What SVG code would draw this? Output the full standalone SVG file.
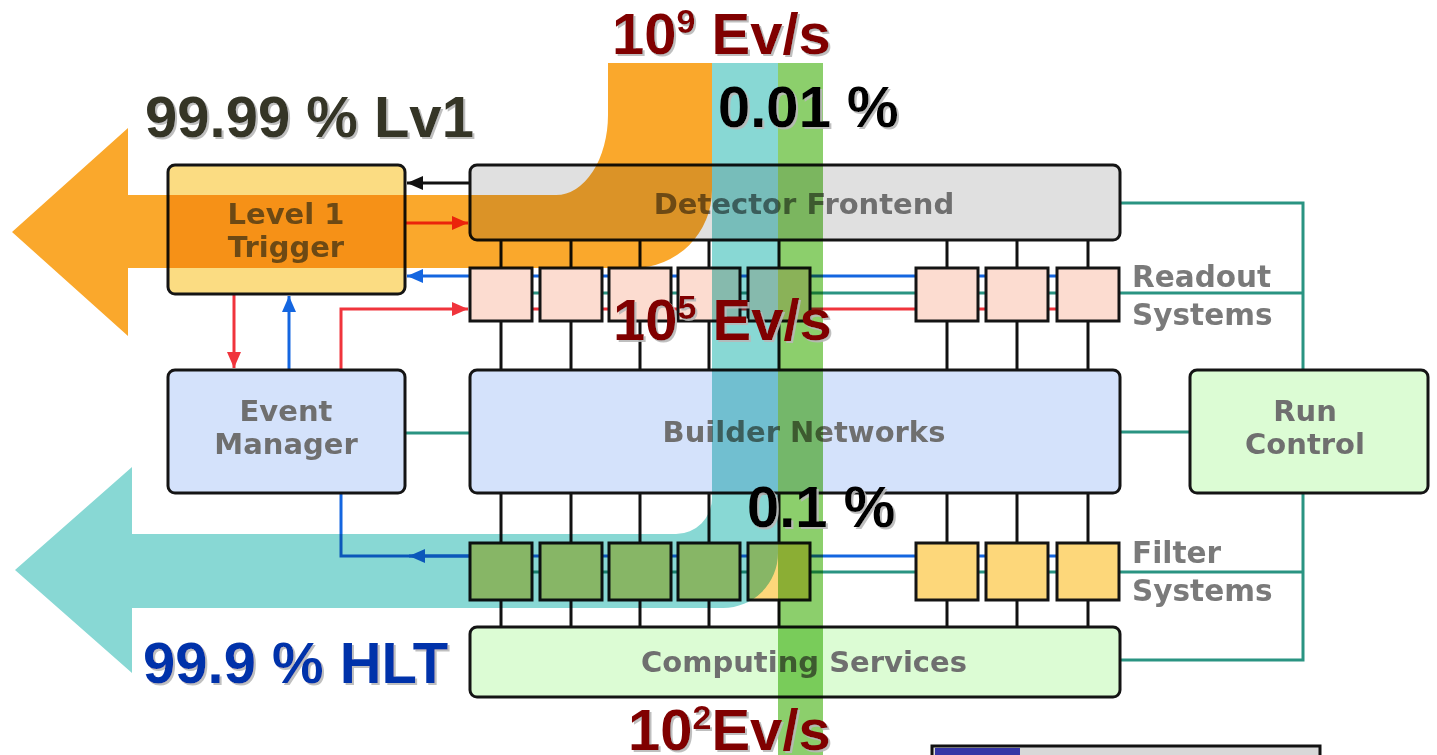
<svg xmlns="http://www.w3.org/2000/svg" width="1437" height="755" viewBox="0 0 1437 755">
<defs>
<style>
.box{stroke:#141414;stroke-width:3}
.lbl{font-family:"DejaVu Sans",Verdana,sans-serif;font-weight:bold;font-size:29px;fill:#6f6f6f;text-anchor:middle}
.side{font-family:"DejaVu Sans",Verdana,sans-serif;font-weight:bold;font-size:29.5px;fill:#7a7a7a}
.big{font-family:"Liberation Sans",Arial,sans-serif;font-weight:bold;font-size:58px;filter:url(#sh)}
.blk{stroke:#111;stroke-width:3;fill:none}
.teal{stroke:#2a9482;stroke-width:3;fill:none}
.red{stroke:#f0343c;stroke-width:3;fill:none}
.blue{stroke:#1466e0;stroke-width:3;fill:none}
.pink{fill:#fcdcd0}
.yel{fill:#fdd77a}
.band{mix-blend-mode:multiply}
</style>
<filter id="sh" x="-5%" y="-10%" width="110%" height="130%">
<feDropShadow dx="2" dy="2" stdDeviation="0.6" flood-color="#b8b8b8" flood-opacity="0.9"/>
</filter>
<marker id="mRed" viewBox="0 0 16 14" refX="16" refY="7" markerWidth="16" markerHeight="14" markerUnits="userSpaceOnUse" orient="auto"><path d="M0,0 L16,7 L0,14 z" fill="#f0343c"/></marker>
<marker id="mBlue" viewBox="0 0 16 14" refX="16" refY="7" markerWidth="16" markerHeight="14" markerUnits="userSpaceOnUse" orient="auto"><path d="M0,0 L16,7 L0,14 z" fill="#1466e0"/></marker>
<marker id="mBlk" viewBox="0 0 16 14" refX="16" refY="7" markerWidth="16" markerHeight="14" markerUnits="userSpaceOnUse" orient="auto"><path d="M0,0 L16,7 L0,14 z" fill="#111"/></marker>
</defs>
<rect width="1437" height="755" fill="#ffffff"/>

<g id="connectors">
<path class="blk" d="M501,240V370 M571,240V370 M640,240V370 M709,240V370 M779,240V370 M947,240V370 M1017,240V370 M1088,240V370"/>
<path class="blk" d="M501,493V627 M571,493V627 M640,493V627 M709,493V627 M779,493V627 M947,493V627 M1017,493V627 M1088,493V627"/>
<path class="blue" d="M1060,276H470"/>
<path class="blue" d="M472,276H407" marker-end="url(#mBlue)"/>
<path class="teal" d="M470,293H1303"/>
<path class="red" d="M470,309H1060"/>
<path class="red" d="M341,370V309H468" marker-end="url(#mRed)"/>
<path class="blk" d="M470,183H407" marker-end="url(#mBlk)"/>
<path class="red" d="M405,223H468" marker-end="url(#mRed)"/>
<path class="red" d="M234,294V368" marker-end="url(#mRed)"/>
<path class="blue" d="M289,370V296" marker-end="url(#mBlue)"/>
<path class="teal" d="M405,433H470"/>
<path class="blue" d="M1060,556H341V493"/>
<path class="blue" d="M470,556H409" marker-end="url(#mBlue)"/>
<path class="teal" d="M470,572H1303"/>
<path class="teal" d="M1120,203H1303V660H1120 M1120,432H1190"/>
</g>

<g id="level1-trigger">
<rect class="box" x="168" y="165" width="237" height="129" rx="7" fill="#fbdc82"/>
<text class="lbl" x="286" y="224">Level 1</text>
<text class="lbl" x="286" y="257">Trigger</text>
</g>

<g id="detector-frontend">
<rect class="box" x="470" y="165" width="650" height="75" rx="7" fill="#e0e0e0"/>
<text class="lbl" x="804" y="214">Detector Frontend</text>
</g>

<g id="readout-systems">
<rect class="box pink" x="470" y="268" width="62" height="53"/>
<rect class="box pink" x="540" y="268" width="62" height="53"/>
<rect class="box pink" x="609" y="268" width="62" height="53"/>
<rect class="box pink" x="678" y="268" width="62" height="53"/>
<rect class="box pink" x="748" y="268" width="62" height="53"/>
<rect class="box pink" x="916" y="268" width="62" height="53"/>
<rect class="box pink" x="986" y="268" width="62" height="53"/>
<rect class="box pink" x="1057" y="268" width="62" height="53"/>
<text class="side" x="1132" y="287">Readout</text>
<text class="side" x="1132" y="325">Systems</text>
</g>

<g id="event-manager">
<rect class="box" x="168" y="370" width="237" height="123" rx="7" fill="#d4e2fb"/>
<text class="lbl" x="286" y="421">Event</text>
<text class="lbl" x="286" y="454">Manager</text>
</g>

<g id="builder-networks">
<rect class="box" x="470" y="370" width="650" height="123" rx="7" fill="#d4e2fb"/>
<text class="lbl" x="804" y="442">Builder Networks</text>
</g>

<g id="run-control">
<rect class="box" x="1190" y="370" width="238" height="123" rx="7" fill="#dcfcd4"/>
<text class="lbl" x="1305" y="421">Run</text>
<text class="lbl" x="1305" y="454">Control</text>
</g>

<g id="filter-systems">
<rect class="box yel" x="470" y="543" width="62" height="57"/>
<rect class="box yel" x="540" y="543" width="62" height="57"/>
<rect class="box yel" x="609" y="543" width="62" height="57"/>
<rect class="box yel" x="678" y="543" width="62" height="57"/>
<rect class="box yel" x="748" y="543" width="62" height="57"/>
<rect class="box yel" x="916" y="543" width="62" height="57"/>
<rect class="box yel" x="986" y="543" width="62" height="57"/>
<rect class="box yel" x="1057" y="543" width="62" height="57"/>
<text class="side" x="1132" y="563">Filter</text>
<text class="side" x="1132" y="601">Systems</text>
</g>

<g id="computing-services">
<rect class="box" x="470" y="627" width="650" height="70" rx="7" fill="#dcfcd4"/>
<text class="lbl" x="804" y="672">Computing Services</text>
</g>

<g id="flow-bands">
<path class="band" fill="#faa82c" d="M12,232 L128,128 V195 H556 A52,80 0 0 0 608,115 V63 H712 V190 A78,78 0 0 1 634,268 H128 V336 Z"/>
<path class="band" fill="#88d8d4" d="M15,570 L132,467 V534 H676 A36,36 0 0 0 712,498 V63 H778 V553 A55,55 0 0 1 723,608 H132 V673 Z"/>
<rect class="band" fill="#8ccf6c" x="778" y="63" width="45" height="700"/>
</g>

<g id="status-bar">
<rect x="932" y="746" width="388" height="14" fill="#d8d8d8" stroke="#111" stroke-width="3"/>
<rect x="935" y="748" width="85" height="10" fill="#3535a5"/>
</g>

<g id="labels">
<text class="big" x="612" y="54" fill="#800000">10<tspan font-size="34" dy="-21">9</tspan><tspan dy="21"> Ev/s</tspan></text>
<text class="big" x="145" y="137" fill="#343428">99.99 % Lv1</text>
<text class="big" x="718" y="127" fill="#000000">0.01 %</text>
<text class="big" x="613" y="340" fill="#800000">10<tspan font-size="34" dy="-21">5</tspan><tspan dy="21"> Ev/s</tspan></text>
<text class="big" x="747" y="527" fill="#000000">0.1 %</text>
<text class="big" x="143" y="683" fill="#0033aa">99.9 % HLT</text>
<text class="big" x="628" y="750" fill="#800000">10<tspan font-size="34" dy="-21">2</tspan><tspan dy="21">Ev/s</tspan></text>
</g>
</svg>
